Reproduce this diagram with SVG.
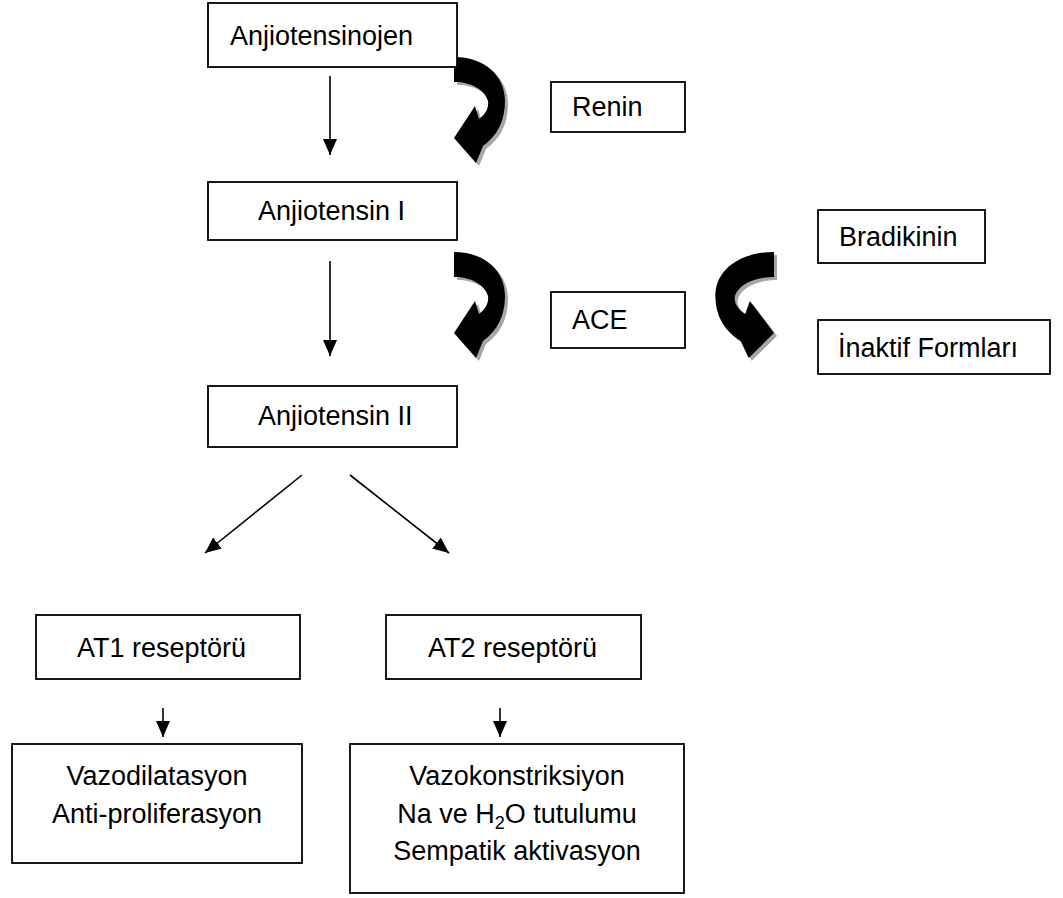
<svg xmlns="http://www.w3.org/2000/svg" width="1063" height="898" viewBox="0 0 1063 898">
<style>
.box{fill:#fff;stroke:#000;stroke-width:1.8}
.t{font-family:"Liberation Sans",Arial,sans-serif;font-size:27px;fill:#000}
.c{text-anchor:middle}
.ln{stroke:#000;stroke-width:1.6;fill:none;marker-end:url(#ah)}
.blk{fill:#000}
.shd{fill:#a6a6a6}
</style>
<defs>
<marker id="ah" viewBox="0 0 16 14" refX="16" refY="7" markerWidth="16" markerHeight="14" markerUnits="userSpaceOnUse" orient="auto">
<path d="M0,0 L16,7 L0,14 Z" fill="#000"/>
</marker>
<path id="curv" d="M454,252 C484,252 505,270 505,296 C505,316 497,331 483,341 L476,358 L454,333 L475,301 L479,314 C486,309 489,302 488,296 C485,285 472,277 454,277 Z"/>
</defs>
<g id="connectors">
<line class="ln" x1="330" y1="76" x2="330" y2="155"/>
<line class="ln" x1="330" y1="261" x2="330" y2="356"/>
<line class="ln" x1="302" y1="475" x2="205" y2="553"/>
<line class="ln" x1="350" y1="475" x2="449" y2="553"/>
<line class="ln" x1="163" y1="708" x2="163" y2="737"/>
<line class="ln" x1="500" y1="708" x2="500" y2="737"/>
<g id="curved-renin">
<use href="#curv" class="shd" transform="translate(3,-192)"/>
<use href="#curv" class="blk" transform="translate(0,-195)"/>
</g>
<g id="curved-ace">
<use href="#curv" class="shd" transform="translate(3,3)"/>
<use href="#curv" class="blk"/>
</g>
<g id="curved-bradikinin">
<use href="#curv" class="shd" transform="translate(777,3) scale(-1.15,1) translate(-454,0)"/>
<use href="#curv" class="blk" transform="translate(774,0) scale(-1.15,1) translate(-454,0)"/>
</g>
</g>
<g id="n-anjiotensinojen"><rect class="box" x="208" y="3" width="249" height="64"/><text class="t" x="230" y="45">Anjiotensinojen</text></g>
<g id="n-renin"><rect class="box" x="551" y="82" width="134" height="50"/><text class="t" x="572" y="116">Renin</text></g>
<g id="n-anjiotensin1"><rect class="box" x="208" y="182" width="249" height="58"/><text class="t" x="258" y="220">Anjiotensin I</text></g>
<g id="n-bradikinin"><rect class="box" x="818" y="210" width="167" height="53"/><text class="t" x="839" y="246">Bradikinin</text></g>
<g id="n-ace"><rect class="box" x="551" y="292" width="134" height="56"/><text class="t" x="572" y="329">ACE</text></g>
<g id="n-inaktif"><rect class="box" x="818" y="320" width="232" height="54"/><text class="t" x="838" y="357">İnaktif Formları</text></g>
<g id="n-anjiotensin2"><rect class="box" x="208" y="386" width="249" height="61"/><text class="t" x="258" y="425">Anjiotensin II</text></g>
<g id="n-at1"><rect class="box" x="36" y="615" width="264" height="64"/><text class="t" x="77" y="657">AT1 reseptörü</text></g>
<g id="n-at2"><rect class="box" x="386" y="615" width="255" height="64"/><text class="t" x="428" y="657">AT2 reseptörü</text></g>
<g id="n-vazodilatasyon"><rect class="box" x="12" y="744" width="290" height="119"/>
<text class="t c" x="157" y="785">Vazodilatasyon</text>
<text class="t c" x="157" y="823">Anti-proliferasyon</text></g>
<g id="n-vazokonstriksiyon"><rect class="box" x="350" y="744" width="334" height="149"/>
<text class="t c" x="517" y="785">Vazokonstriksiyon</text>
<text class="t c" x="517" y="823"><tspan>Na ve H</tspan><tspan font-size="18" dy="6">2</tspan><tspan dy="-6">O tutulumu</tspan></text>
<text class="t c" x="517" y="860">Sempatik aktivasyon</text></g>
</svg>
